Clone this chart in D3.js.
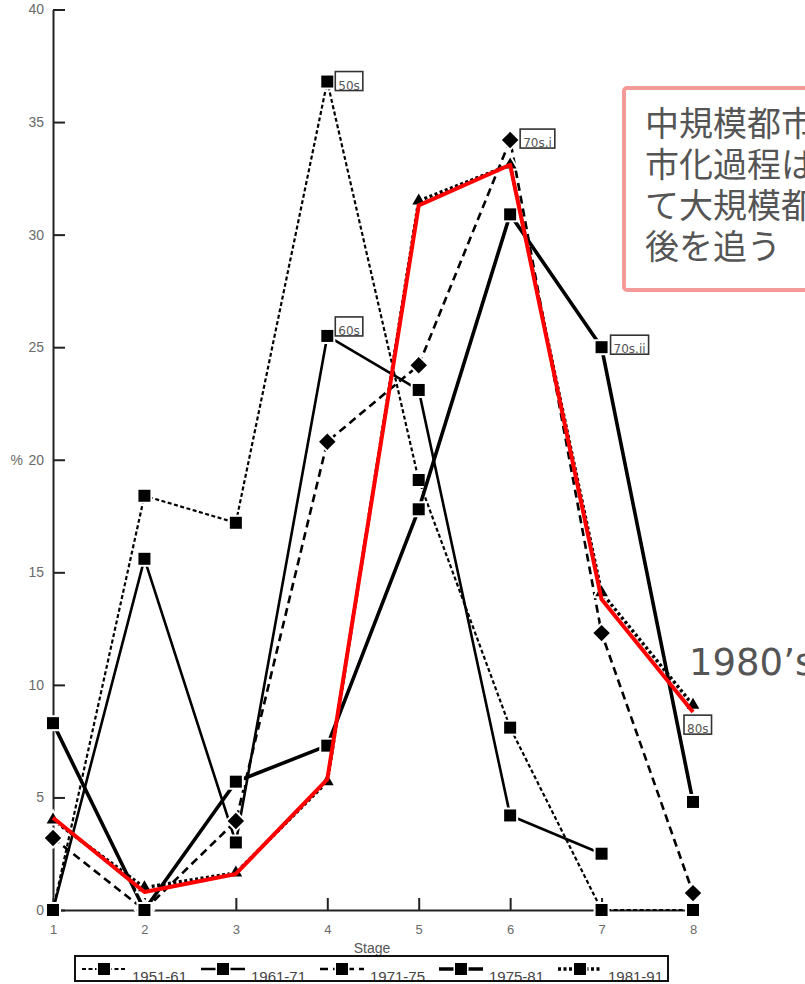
<!DOCTYPE html>
<html>
<head>
<meta charset="utf-8">
<script src="https://cdn.jsdelivr.net/npm/d3@7"></script>
<style>
  body { margin: 0; background: #fff; overflow: hidden; }
  svg { display: block; }
</style>
</head>
<body>
<svg id="chart"></svg>
<script>
// data
const stages = [1, 2, 3, 4, 5, 6, 7, 8];
const periods = ["1951-61", "1961-71", "1971-75", "1975-81", "1981-91"];
const v1951 = [0, 18.4, 17.2, 36.8, 19.1, 8.1, 0, 0];
const v1961 = [0, 15.6, 3.0, 25.5, 23.1, 4.2, 2.5, null];
const v1971 = [3.2, 0, 3.95, 20.8, 24.2, 34.2, 12.3, 0.75];
const v1975 = [8.3, 0, 5.7, 7.3, 17.8, 30.9, 25.0, 4.8];
const v1981 = [4.0, 1.0, 1.65, 5.7, 31.5, 33.1, 14.1, 9.1];
const highlight80s = [4.1, 0.8, 1.6, 5.8, 31.3, 33.1, 13.8, 8.8];
const yTicks = [0, 5, 10, 15, 20, 25, 30, 35, 40];
const periodTags = ["50s", "60s", "70s.i", "70s.ii", "80s"];
const tagStage = [4, 4, 6, 7, 8];
const noteLines = ["中規模都市", "市化過程は", "て大規模都", "後を追う"];
const noteWord = "1980’s";

const W = 805, H = 984;
const svg = d3.select("#chart").attr("width", W).attr("height", H);

const x = d3.scaleLinear().domain([1, 8]).range([53, 693]);
const y = d3.scaleLinear().domain([0, 40]).range([910, 9.5]);

const series = [v1951, v1961, v1971, v1975, v1981];
// line look per period
const looks = [
  { dash: "4,2.5", width: 2.2, marker: "square" },
  { dash: null, width: 2.6, marker: "square" },
  { dash: "8,5", width: 2.6, marker: "diamond" },
  { dash: null, width: 3.6, marker: "square" },
  { dash: "3,2.5", width: 3.4, marker: "triangle" }
];
// where each period's tag box sits, relative to its point
const tagOffset = [[8, -10], [8, -19], [10, -11], [9, -12], [-9, 10]];

const tickFont = "'Liberation Sans', Arial, sans-serif";

// axes
const yAxis = d3.axisLeft(y).tickValues(yTicks).tickSizeInner(-12).tickSizeOuter(0).tickPadding(9);
const gy = svg.append("g").attr("transform", "translate(53,0)").call(yAxis);
gy.select(".domain").attr("stroke", "#222").attr("stroke-width", 2);
gy.selectAll(".tick line").attr("stroke", "#222").attr("stroke-width", 2);
gy.selectAll(".tick text").attr("fill", "#6a6a6a").attr("font-size", 14)
  .attr("font-family", tickFont);

const xAxis = d3.axisBottom(x).tickValues(stages).tickFormat(d3.format("d"))
  .tickSizeInner(-12).tickSizeOuter(0).tickPadding(17);
const gx = svg.append("g").attr("transform", "translate(0,910)").call(xAxis);
gx.select(".domain").attr("stroke", "#222").attr("stroke-width", 2);
gx.selectAll(".tick line").attr("stroke", "#222").attr("stroke-width", 2);
gx.selectAll(".tick text").attr("fill", "#6a6a6a").attr("font-size", 13)
  .attr("font-family", tickFont).attr("dy", "0.5em");

svg.append("text").attr("x", 23).attr("y", y(20)).attr("dy", "0.35em")
  .attr("text-anchor", "end").attr("fill", "#6a6a6a").attr("font-size", 14)
  .attr("font-family", tickFont).text("%");

svg.append("text").attr("x", 372).attr("y", 953).attr("text-anchor", "middle")
  .attr("fill", "#555").attr("font-size", 14).attr("font-family", tickFont).text("Stage");

function markerPath(kind, size) {
  if (kind === "triangle") return d3.symbol(d3.symbolTriangle, size)();
  return d3.symbol(d3.symbolSquare, size)();
}

const line = d3.line()
  .defined(d => d[1] !== null)
  .x(d => x(d[0]))
  .y(d => y(d[1]));

series.forEach((vals, i) => {
  const pts = stages.map((s, k) => [s, vals[k]]);
  const lk = looks[i];
  svg.append("path")
    .attr("d", line(pts))
    .attr("fill", "none")
    .attr("stroke", "#000")
    .attr("stroke-width", lk.width)
    .attr("stroke-dasharray", lk.dash)
    .attr("stroke-linejoin", "round");

  const size = lk.marker === "diamond" ? 135 : lk.marker === "triangle" ? 70 : 144;
  svg.selectAll(null)
    .data(pts.filter(d => d[1] !== null))
    .enter().append("path")
    .attr("d", markerPath(lk.marker, size))
    .attr("transform", d => `translate(${x(d[0])},${y(d[1])})` + (lk.marker === "diamond" ? " rotate(45)" : ""))
    .attr("fill", "#000")
    .attr("stroke", "#fff")
    .attr("stroke-width", 4)
    .style("paint-order", "stroke");
});

// red overlay for the 1980s
svg.append("path")
  .attr("d", line(stages.map((s, k) => [s, highlight80s[k]])))
  .attr("fill", "none")
  .attr("stroke", "#ff0000")
  .attr("stroke-width", 4)
  .attr("stroke-linejoin", "round");

// small period tags
periodTags.forEach((t, i) => {
  const k = stages.indexOf(tagStage[i]);
  const px = x(tagStage[i]) + tagOffset[i][0];
  const py = y(series[i][k]) + tagOffset[i][1];
  const g = svg.append("g").attr("transform", `translate(${px},${py})`);
  const rect = g.append("rect").attr("height", 19).attr("fill", "#fff")
    .attr("stroke", "#333").attr("stroke-width", 1.6);
  const txt = g.append("text").attr("x", 3).attr("y", 18)
    .attr("fill", "#555").attr("font-size", 12).attr("font-family", "'DejaVu Sans', sans-serif")
    .text(t);
  rect.attr("width", txt.node().getComputedTextLength() + 6);
});

// legend
const legend = svg.append("g");
legend.append("rect").attr("x", 75).attr("y", 956).attr("width", 593).attr("height", 25)
  .attr("fill", "#fff").attr("stroke", "#111").attr("stroke-width", 2);
periods.forEach((p, i) => {
  const x0 = 82 + i * 119;
  const lk = looks[i];
  legend.append("line").attr("x1", x0).attr("x2", x0 + 44).attr("y1", 969).attr("y2", 969)
    .attr("stroke", "#000").attr("stroke-width", lk.width).attr("stroke-dasharray", lk.dash);
  legend.append("path").attr("d", markerPath("square", 144))
    .attr("transform", `translate(${x0 + 22},969)`).attr("fill", "#000")
    .attr("stroke", "#fff").attr("stroke-width", 3).style("paint-order", "stroke");
  legend.append("text").attr("x", x0 + 50).attr("y", 982)
    .attr("fill", "#444").attr("font-size", 15).attr("font-family", tickFont).text(p);
});
legend.append("line").attr("x1", 75).attr("x2", 668).attr("y1", 981).attr("y2", 981)
  .attr("stroke", "#111").attr("stroke-width", 2);

// annotation box (one text block, lines as tspans)
const note = svg.append("g");
note.append("rect").attr("x", 624).attr("y", 88).attr("width", 260).attr("height", 202)
  .attr("rx", 3).attr("fill", "#fff").attr("stroke", "#f59a9a").attr("stroke-width", 4);
const noteText = note.append("text")
  .attr("x", 645).attr("y", 136)
  .attr("fill", "#555").attr("font-size", 34)
  .attr("font-family", "'Noto Sans CJK JP', sans-serif");
noteText.selectAll("tspan").data(noteLines).enter().append("tspan")
  .attr("x", 645).attr("dy", (d, i) => i === 0 ? 0 : 41)
  .text(d => d);

svg.append("text").attr("x", 689).attr("y", 675)
  .attr("fill", "#555").attr("font-size", 37)
  .attr("font-family", "'DejaVu Sans', sans-serif")
  .text(noteWord);
</script>
</body>
</html>
